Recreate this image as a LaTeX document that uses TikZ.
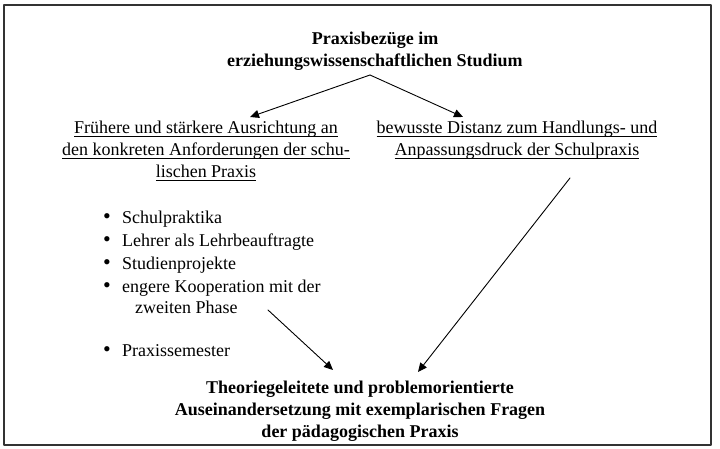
\documentclass[tikz,border=0pt]{standalone}
\usepackage{fontspec}
\setmainfont{Liberation Serif}
\usetikzlibrary{arrows.meta}
\newcommand\unterstr[1]{\setbox0\hbox{#1}\rlap{\rule[-3pt]{\wd0}{0.8pt}}\box0}
\tikzset{
  txt/.style={align=center,inner sep=0pt,font=\fontsize{18}{22}\selectfont},
  head/.style={txt,font=\fontsize{18}{22}\selectfont\bfseries},
  item/.style={anchor=base west,inner sep=0pt,font=\fontsize{18}{22}\selectfont},
  dot/.style={anchor=base,inner sep=0pt,font=\fontsize{22}{22}\selectfont},
}
\begin{document}
\begin{tikzpicture}[x=1pt,y=-1pt,line join=round,line cap=round,>={Triangle[length=9pt,width=8pt]}]
	\useasboundingbox (0,0) rectangle (720,449);
	\draw[black!80,line width=2pt] (4,5) rectangle (711,445);
	% Kopf und die beiden Richtungen
	\node[head] (kopf) at (375,51) {Praxisbez\"uge im\\erziehungswissenschaftlichen Studium};
	\node[txt] (links) at (206,151) {\unterstr{Fr\"uhere und st\"arkere Ausrichtung an}\\\unterstr{den konkreten Anforderungen der schu-}\\\unterstr{lischen Praxis}};
	\node[txt] (rechts) at (517,140) {\unterstr{bewusste Distanz zum Handlungs- und}\\\unterstr{Anpassungsdruck der Schulpraxis}};
	% Aufzaehlung
	\foreach \y/\t in {223/Schulpraktika,246/Lehrer als Lehrbeauftragte,269/Studienprojekte,292/engere Kooperation mit der,356/Praxissemester}{
		\node[dot] at (107,\y) {\textbullet};
		\node[item] at (122,\y) {\t};
	}
	\node[item] (phase) at (135,313) {zweiten Phase};
	% Ziel
	\node[head] (ziel) at (360,411) {Theoriegeleitete und problemorientierte\\Auseinandersetzung mit exemplarischen Fragen\\der p\"adagogischen Praxis};
	\coordinate (kspitze) at (370,75);
	\coordinate (rstart) at (570,178);
	\coordinate (pstart) at (268,310);
	\draw[->,line width=0.9pt] (kspitze)--(250,117);
	\draw[->,line width=0.9pt] (kspitze)--(463,117);
	\draw[->,line width=0.9pt] (rstart)--(418,372);
	\draw[->,line width=0.9pt] (pstart)--(333,370);
\end{tikzpicture}
\end{document}
